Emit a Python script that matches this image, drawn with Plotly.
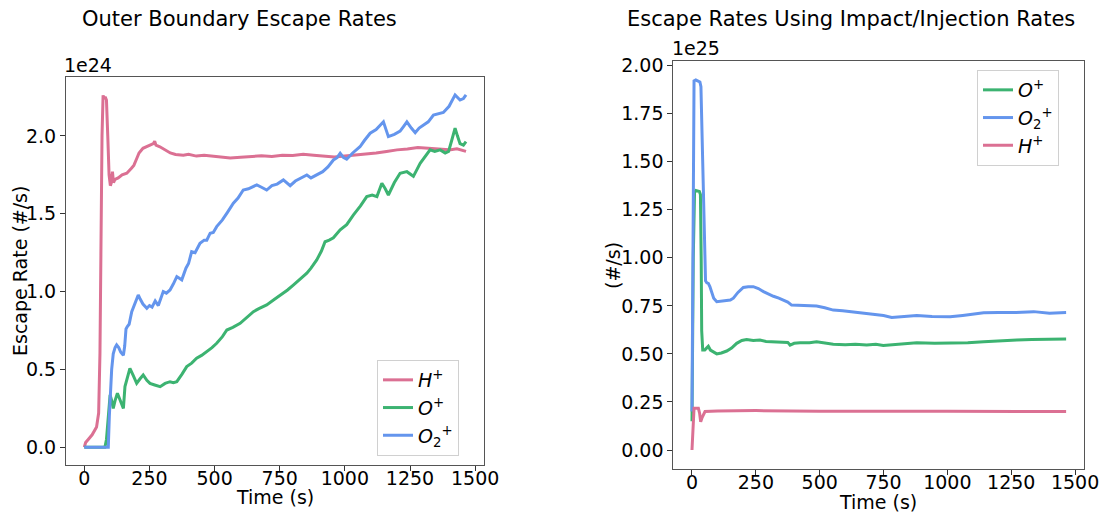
import plotly.graph_objects as go

# ---------------- Left panel: Outer Boundary Escape Rates (units of 1e24 #/s)
h_t = [0, 5, 15, 30, 47, 55, 60, 64, 68, 72, 76, 80, 85, 90, 95, 100, 104, 108, 112, 118, 130, 145, 163,
       180, 190, 200, 210, 225, 240, 255, 265, 270, 275, 290, 310, 330, 350, 380, 400, 430, 460, 500, 530,
       560, 600, 640, 680, 720, 760, 800, 840, 880, 920, 960, 1000, 1040, 1080, 1120, 1160, 1200, 1240,
       1280, 1320, 1360, 1400, 1430, 1465]
h_v = [0.0, 0.03, 0.05, 0.08, 0.13, 0.22, 0.6, 1.4, 2.0, 2.26, 2.24, 2.25, 2.23, 2.0, 1.75, 1.68, 1.70, 1.77,
       1.70, 1.72, 1.73, 1.75, 1.76, 1.79, 1.81, 1.85, 1.89, 1.92, 1.93, 1.94, 1.95, 1.965, 1.94, 1.93, 1.91,
       1.89, 1.88, 1.875, 1.882, 1.87, 1.876, 1.868, 1.865, 1.858, 1.862, 1.866, 1.872, 1.868, 1.876, 1.874,
       1.881, 1.875, 1.87, 1.864, 1.87, 1.876, 1.885, 1.89, 1.90, 1.91, 1.915, 1.925, 1.92, 1.915, 1.91,
       1.917, 1.90]

o_t = [0, 79, 85, 92, 99, 105, 111, 118, 127, 138, 150, 156, 165, 175, 188, 201, 214, 226, 240, 252, 270,
       291, 310, 329, 342, 355, 375, 393, 412, 431, 450, 470, 490, 508, 530, 547, 570, 598, 620, 649, 670,
       700, 730, 764, 780, 802, 830, 854, 870, 892, 910, 924, 940, 956, 982, 1007, 1033, 1060, 1084, 1105,
       1123, 1142, 1155, 1167, 1190, 1212, 1238, 1263, 1289, 1310, 1327, 1345, 1366, 1385, 1398, 1410, 1423,
       1432, 1442, 1455, 1465]
o_v = [0.0, 0.0, 0.05, 0.2, 0.336, 0.30, 0.25, 0.30, 0.347, 0.30, 0.25, 0.39, 0.44, 0.507, 0.46, 0.411, 0.44,
       0.464, 0.43, 0.41, 0.40, 0.389, 0.41, 0.421, 0.415, 0.421, 0.47, 0.518, 0.54, 0.572, 0.59, 0.614, 0.64,
       0.668, 0.71, 0.753, 0.77, 0.796, 0.83, 0.871, 0.89, 0.914, 0.95, 0.989, 1.01, 1.042, 1.08, 1.118, 1.15,
       1.203, 1.26, 1.32, 1.33, 1.345, 1.396, 1.43, 1.492, 1.55, 1.61, 1.62, 1.61, 1.696, 1.66, 1.62, 1.70,
       1.76, 1.77, 1.74, 1.824, 1.87, 1.91, 1.90, 1.91, 1.89, 1.90, 1.97, 2.049, 2.0, 1.95, 1.94, 1.963]

o2_t = [0, 92, 96, 100, 105, 111, 118, 124, 132, 140, 150, 155, 160, 165, 172, 182, 195, 207, 215, 225, 240,
        250, 260, 272, 284, 295, 303, 315, 329, 342, 355, 374, 390, 400, 412, 425, 444, 460, 470, 483, 495,
        508, 530, 550, 572, 590, 610, 630, 662, 680, 700, 720, 740, 764, 790, 810, 830, 854, 870, 892, 915,
        935, 956, 970, 982, 995, 1007, 1030, 1058, 1075, 1097, 1120, 1148, 1158, 1167, 1190, 1212, 1225, 1238,
        1255, 1270, 1285, 1302, 1320, 1340, 1360, 1378, 1400, 1423, 1442, 1455, 1465]
o2_v = [0.0, 0.0, 0.2, 0.35, 0.5, 0.60, 0.64, 0.657, 0.64, 0.61, 0.59, 0.65, 0.76, 0.775, 0.79, 0.87, 0.92,
        0.978, 0.95, 0.92, 0.893, 0.91, 0.90, 0.94, 0.91, 0.96, 1.0, 0.99, 1.01, 1.05, 1.096, 1.075, 1.15,
        1.18, 1.256, 1.25, 1.31, 1.33, 1.33, 1.375, 1.38, 1.417, 1.46, 1.51, 1.567, 1.60, 1.652, 1.66, 1.685,
        1.67, 1.652, 1.68, 1.69, 1.717, 1.68, 1.71, 1.73, 1.749, 1.73, 1.75, 1.77, 1.80, 1.845, 1.86, 1.888,
        1.86, 1.85, 1.89, 1.93, 1.97, 2.017, 2.04, 2.09, 2.04, 1.995, 2.01, 2.03, 2.06, 2.09, 2.05, 2.02, 2.05,
        2.07, 2.09, 2.134, 2.14, 2.15, 2.19, 2.263, 2.23, 2.24, 2.263]

# ---------------- Right panel: Escape Rates Using Impact/Injection Rates (units of 1e25 #/s)
ro_t = [0, 5, 10, 15, 29, 33, 36, 38, 42, 50, 57, 64, 72, 85, 97, 115, 136, 155, 175, 195, 214, 240, 266, 290,
        319, 350, 375, 384, 400, 423, 460, 488, 520, 553, 600, 640, 684, 720, 749, 780, 820, 880, 950, 1011,
        1080, 1142, 1200, 1272, 1330, 1400, 1440, 1465]
ro_v = [0.15, 1.0, 1.34, 1.35, 1.345, 1.33, 1.0, 0.62, 0.52, 0.52, 0.53, 0.54, 0.52, 0.51, 0.50, 0.505, 0.515,
        0.53, 0.555, 0.57, 0.575, 0.57, 0.572, 0.565, 0.563, 0.56, 0.56, 0.546, 0.555, 0.558, 0.558, 0.563,
        0.555, 0.55, 0.548, 0.55, 0.546, 0.55, 0.544, 0.548, 0.553, 0.558, 0.555, 0.555, 0.558, 0.563, 0.568,
        0.572, 0.575, 0.575, 0.578, 0.577]

ro2_t = [0, 4, 8, 15, 25, 31, 35, 40, 45, 49, 53, 58, 64, 70, 77, 85, 97, 115, 136, 150, 162, 180, 201, 220,
         240, 260, 280, 300, 319, 340, 358, 375, 390, 420, 450, 488, 520, 553, 590, 618, 650, 684, 720, 750,
         782, 820, 880, 940, 1011, 1060, 1100, 1142, 1200, 1260, 1338, 1400, 1465]
ro2_v = [0.2, 1.2, 1.92, 1.925, 1.92, 1.915, 1.89, 1.6, 1.2, 0.95, 0.88, 0.87, 0.867, 0.85, 0.82, 0.79, 0.772,
         0.775, 0.776, 0.78, 0.79, 0.82, 0.846, 0.85, 0.85, 0.84, 0.824, 0.81, 0.80, 0.79, 0.78, 0.77, 0.754,
         0.752, 0.75, 0.749, 0.74, 0.728, 0.725, 0.72, 0.715, 0.708, 0.705, 0.70, 0.69, 0.695, 0.70, 0.695,
         0.693, 0.70, 0.705, 0.714, 0.715, 0.715, 0.72, 0.712, 0.715]

rh_t = [0, 4, 8, 25, 30, 34, 40, 51, 70, 100, 250, 500, 1000, 1465]
rh_v = [0.0, 0.15, 0.217, 0.217, 0.19, 0.147, 0.17, 0.2, 0.2, 0.203, 0.205, 0.202, 0.202, 0.2]

left_ticks = [0.0, 0.5, 1.0, 1.5, 2.0]
right_ticks = [0.0, 0.25, 0.5, 0.75, 1.0, 1.25, 1.5, 1.75, 2.0]
x_ticks = [0, 250, 500, 750, 1000, 1250, 1500]

PINK = "#DB7093"
GREEN = "#3CB371"
BLUE = "#6495ED"
FONT = "DejaVu Sans"
W, H = 1119, 514

lab_h = "<i>H</i><sup>+</sup>"
lab_o = "<i>O</i><sup>+</sup>"
lab_o2 = "<i>O</i><sub>2</sub><sup>+</sup>"

fig = go.Figure()
lw = 3
fig.add_trace(go.Scatter(x=h_t, y=[v * 1e24 for v in h_v], mode="lines", name=lab_h,
                         line=dict(color=PINK, width=lw), xaxis="x", yaxis="y", legend="legend"))
fig.add_trace(go.Scatter(x=o_t, y=[v * 1e24 for v in o_v], mode="lines", name=lab_o,
                         line=dict(color=GREEN, width=lw), xaxis="x", yaxis="y", legend="legend"))
fig.add_trace(go.Scatter(x=o2_t, y=[v * 1e24 for v in o2_v], mode="lines", name=lab_o2,
                         line=dict(color=BLUE, width=lw), xaxis="x", yaxis="y", legend="legend"))

fig.add_trace(go.Scatter(x=ro_t, y=[v * 1e25 for v in ro_v], mode="lines", name=lab_o,
                         line=dict(color=GREEN, width=lw), xaxis="x2", yaxis="y2", legend="legend2"))
fig.add_trace(go.Scatter(x=ro2_t, y=[v * 1e25 for v in ro2_v], mode="lines", name=lab_o2,
                         line=dict(color=BLUE, width=lw), xaxis="x2", yaxis="y2", legend="legend2"))
fig.add_trace(go.Scatter(x=rh_t, y=[v * 1e25 for v in rh_v], mode="lines", name=lab_h,
                         line=dict(color=PINK, width=lw), xaxis="x2", yaxis="y2", legend="legend2"))


def px_x(p):
    return p / W


def px_y(p):
    return 1 - p / H


axis_common = dict(showgrid=False, zeroline=False, showline=True, mirror=True, linecolor="#555555",
                   linewidth=1, ticks="outside", ticklen=5, tickcolor="#333333", automargin=False,
                   tickfont=dict(family=FONT, size=19, color="black"))

fig.update_layout(
    width=W, height=H, margin=dict(l=0, r=0, t=0, b=0),
    plot_bgcolor="white", paper_bgcolor="white",
    font=dict(family=FONT, size=18, color="black"),
    xaxis=dict(domain=[px_x(66), px_x(484)], range=[-70.3, 1534], anchor="y", ticklabelstandoff=-9,
               tickvals=x_ticks, ticktext=[str(t) for t in x_ticks], **axis_common),
    yaxis=dict(domain=[px_y(465), px_y(77)], range=[-0.114e24, 2.378e24], anchor="x",
               tickvals=[t * 1e24 for t in left_ticks], ticktext=[f"{t:.1f}" for t in left_ticks],
               **axis_common),
    xaxis2=dict(domain=[px_x(673.3), px_x(1084)], range=[-73.2, 1535], anchor="y2", ticklabelstandoff=-9,
                tickvals=x_ticks, ticktext=[str(t) for t in x_ticks], **axis_common),
    yaxis2=dict(domain=[px_y(468.7), px_y(60.7)], range=[-0.0973e25, 2.0257e25], anchor="x2",
                tickvals=[t * 1e25 for t in right_ticks], ticktext=[f"{t:.2f}" for t in right_ticks],
                **axis_common),
    legend=dict(x=px_x(377), y=px_y(360), xanchor="left", yanchor="top", bgcolor="white",
                bordercolor="#d0d0d0", borderwidth=1, font=dict(family=FONT, size=19)),
    legend2=dict(x=px_x(977), y=px_y(70), xanchor="left", yanchor="top", bgcolor="white",
                 bordercolor="#d0d0d0", borderwidth=1, font=dict(family=FONT, size=19)),
)

ann = [
    dict(text="Outer Boundary Escape Rates", x=px_x(239), y=px_y(19), size=21),
    dict(text="Escape Rates Using Impact/Injection Rates", x=px_x(851), y=px_y(19), size=21),
    dict(text="Time (s)", x=px_x(275), y=px_y(497), size=19),
    dict(text="Time (s)", x=px_x(878), y=px_y(502), size=19),
]
for a in ann:
    fig.add_annotation(text=a["text"], x=a["x"], y=a["y"], xref="paper", yref="paper",
                       showarrow=False, xanchor="center", yanchor="middle",
                       font=dict(family=FONT, size=a["size"], color="black"))

fig.add_annotation(text="Escape Rate (#/s)", x=px_x(20), y=px_y(271), xref="paper", yref="paper",
                   showarrow=False, textangle=-90, xanchor="center", yanchor="middle",
                   font=dict(family=FONT, size=19, color="black"))
fig.add_annotation(text="(#/s)", x=px_x(613), y=px_y(266), xref="paper", yref="paper",
                   showarrow=False, textangle=-90, xanchor="center", yanchor="middle",
                   font=dict(family=FONT, size=19, color="black"))
fig.add_annotation(text="1e24", x=px_x(62), y=px_y(78), xref="paper", yref="paper",
                   showarrow=False, xanchor="left", yanchor="bottom",
                   font=dict(family=FONT, size=19, color="black"))
fig.add_annotation(text="1e25", x=px_x(670), y=px_y(61), xref="paper", yref="paper",
                   showarrow=False, xanchor="left", yanchor="bottom",
                   font=dict(family=FONT, size=19, color="black"))

fig.write_html("out.html", config={"displayModeBar": False},
               post_script="document.body.style.margin='0';document.body.style.padding='0';")
